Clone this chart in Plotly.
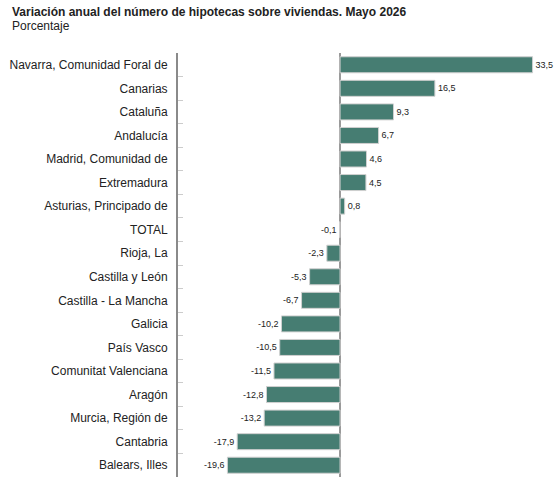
import plotly.graph_objects as go

regions = ["Navarra, Comunidad Foral de", "Canarias", "Cataluña", "Andalucía",
           "Madrid, Comunidad de", "Extremadura", "Asturias, Principado de", "TOTAL",
           "Rioja, La", "Castilla y León", "Castilla - La Mancha", "Galicia",
           "País Vasco", "Comunitat Valenciana", "Aragón", "Murcia, Región de",
           "Cantabria", "Balears, Illes"]
values = [33.5, 16.5, 9.3, 6.7, 4.6, 4.5, 0.8, -0.1, -2.3, -5.3, -6.7, -10.2,
          -10.5, -11.5, -12.8, -13.2, -17.9, -19.6]

title = "Variación anual del número de hipotecas sobre viviendas. Mayo 2026"
subtitle = "Porcentaje"

colors = ["#7a4d5c" if r == "TOTAL" else "#467d72" for r in regions]
labels = [f"{v:.1f}".replace(".", ",") for v in values]

L, R, T, B = 178, 5, 53, 1
W, H = 560, 478
pw, ph = W - L - R, H - T - B

def px_x(p):
    return (p - L) / pw

def px_y(p):
    return (H - B - p) / ph

fig = go.Figure(go.Bar(
    y=regions, x=values, orientation="h",
    marker=dict(color=colors, line=dict(color="#d0d0d0", width=1)),
    width=0.68,
    text=labels, textposition="outside", cliponaxis=False,
    textfont=dict(family="Liberation Sans, Arial", size=9, color="#222"),
))

fig.add_annotation(text=f"<b>{title}</b>", xref="paper", yref="paper",
                   x=px_x(10), y=px_y(3), xanchor="left", yanchor="top",
                   showarrow=False, font=dict(size=12, color="#222"))
fig.add_annotation(text=subtitle, xref="paper", yref="paper",
                   x=px_x(10), y=px_y(17), xanchor="left", yanchor="top",
                   showarrow=False, font=dict(size=12, color="#222"))

fig.update_layout(
    width=W, height=H,
    margin=dict(l=L, r=R, t=T, b=B),
    plot_bgcolor="white", paper_bgcolor="white",
    showlegend=False,
    font=dict(family="Liberation Sans, Arial", size=12, color="#222"),
    xaxis=dict(range=[-28.2, 37.4], showgrid=False, showticklabels=False,
               zeroline=True, zerolinecolor="#9a9a9a", zerolinewidth=2,
               showline=False, ticks=""),
    yaxis=dict(autorange="reversed", type="category", showgrid=False,
               showline=True, linecolor="#8a8a8a", linewidth=2,
               ticks="inside", tickson="boundaries", ticklen=5,
               tickcolor="#cccccc", tickwidth=1,
               tickfont=dict(size=12, color="#222"), ticklabelstandoff=6),
)

fig.write_html("out.html")
